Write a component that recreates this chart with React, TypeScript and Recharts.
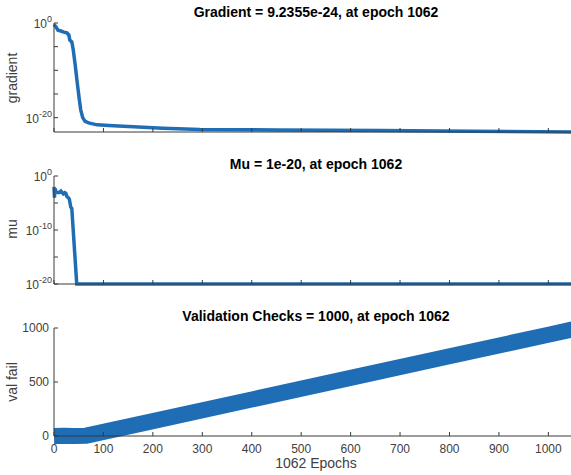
import { LineChart, Line, XAxis, YAxis } from "recharts";

// x axis
const epochMax = 1062;
const xTicks = [0, 100, 200, 300, 400, 500, 600, 700, 800, 900, 1000];

// gradient (log scale)
const gradientEpochs = [0, 4, 8, 14, 20, 26, 30, 32, 36, 39, 43, 47, 51, 54, 58, 63, 70, 87, 120, 161, 220, 295, 450, 660, 850, 1062];
const gradientValues = [0.5, 0.15, 0.03, 0.02, 0.012, 0.008, 3e-3, 2.5e-4, 1e-4, 2e-6, 1e-9, 2.5e-13, 1e-16, 5e-19, 1e-20, 1.6e-21, 8e-22, 3e-22, 2e-22, 1.2e-22, 6e-23, 3.2e-23, 2.5e-23, 2e-23, 1.4e-23, 9.2355e-24];

// mu (log scale)
const muEpochs = [0, 1, 2, 4, 6, 9, 12, 14, 17, 19, 22, 24, 26, 29, 31, 34, 36, 46, 1062];
const muValues = [1e-2, 1e-4, 5e-3, 1.2e-3, 1e-3, 8e-4, 1e-3, 1.6e-3, 8e-4, 5e-4, 8e-4, 6e-4, 1.6e-4, 1e-4, 5e-5, 1.6e-6, 1e-6, 1e-20, 1e-20];

// validation checks
const valEpochs = [0, 20, 40, 65, 200, 400, 600, 800, 1000, 1062];
const valValues = [0, 2, 0, 3, 138, 338, 538, 738, 938, 1000];

const gradTicks = [1e-20, 1e-15, 1e-10, 1e-5, 1];
const gradLabels = [0, -20];
const muTicks = [1e-20, 1e-15, 1e-10, 1e-5, 1];
const muLabels = [0, -10, -20];
const valTicks = [0, 500, 1000];

const toRows = (xs: number[], ys: number[]) => xs.map((epoch, i) => ({ epoch, value: ys[i] }));

const gradientData = toRows(gradientEpochs, gradientValues);
const muData = toRows(muEpochs, muValues);
const valData = toRows(valEpochs, valValues);

const BLUE = "#1f6db4";
const AXIS = "#3a3a3a";
const TEXT = "#404040";
const FONT = "'Liberation Sans', Arial, Helvetica, sans-serif";

const BottomTick = (props: any) => {
  const { x, y, payload, showLabel } = props;
  return (
    <g>
      <line x1={x} x2={x} y1={y} y2={y - 4} stroke={AXIS} strokeWidth={1} />
      {showLabel && (
        <text x={x} y={y + 17} textAnchor="middle" fontSize={12} fill={TEXT} fontFamily={FONT}>
          {payload.value}
        </text>
      )}
    </g>
  );
};

const TopTick = (props: any) => {
  const { x, y } = props;
  return <line x1={x} x2={x} y1={y} y2={y + 4} stroke={AXIS} strokeWidth={1} />;
};

const LogTick = (props: any) => {
  const { x, y, payload, labels } = props;
  const exp = Math.round(Math.log10(payload.value));
  return (
    <g>
      <line x1={x} x2={x + 4} y1={y} y2={y} stroke={AXIS} strokeWidth={1} />
      {labels.includes(exp) && (
        <text x={x - 2} y={y + 5} textAnchor="end" fontSize={12} fill={TEXT} fontFamily={FONT}>
          <tspan>10</tspan>
          <tspan dy={-6} fontSize={9}>{exp}</tspan>
        </text>
      )}
    </g>
  );
};

const LinTick = (props: any) => {
  const { x, y, payload } = props;
  return (
    <g>
      <line x1={x} x2={x + 4} y1={y} y2={y} stroke={AXIS} strokeWidth={1} />
      <text x={x - 5} y={y + 4} textAnchor="end" fontSize={12} fill={TEXT} fontFamily={FONT}>
        {payload.value}
      </text>
    </g>
  );
};

function Panel({
  top,
  height,
  marginTop,
  bottomHeight,
  data,
  log,
  domain,
  yTicks,
  labels,
  showX,
  width,
}: any) {
  return (
    <div style={{ position: "absolute", left: 0, top }}>
      <LineChart
        width={600}
        height={height}
        data={data}
        margin={{ top: marginTop, right: 21, left: 0, bottom: 0 }}
      >
        <XAxis
          dataKey="epoch"
          type="number"
          domain={[0, epochMax]}
          ticks={xTicks}
          interval={0}
          height={bottomHeight}
          tickSize={0}
          tickMargin={0}
          axisLine={{ stroke: AXIS, strokeWidth: 1 }}
          tickLine={false}
          tick={<BottomTick showLabel={showX} />}
        />
        <XAxis
          xAxisId="top"
          orientation="top"
          dataKey="epoch"
          type="number"
          domain={[0, epochMax]}
          ticks={xTicks}
          interval={0}
          height={0}
          tickSize={0}
          tickMargin={0}
          axisLine={{ stroke: AXIS, strokeWidth: 1 }}
          tickLine={false}
          tick={<TopTick />}
        />
        <YAxis
          type="number"
          scale={log ? "log" : "linear"}
          domain={domain}
          ticks={yTicks}
          interval={0}
          width={54}
          tickSize={0}
          tickMargin={0}
          axisLine={{ stroke: AXIS, strokeWidth: 1 }}
          tickLine={false}
          tick={log ? <LogTick labels={labels} /> : <LinTick />}
        />
        <Line
          type="linear"
          dataKey="value"
          stroke={BLUE}
          strokeWidth={width}
          dot={false}
          activeDot={false}
          isAnimationActive={false}
        />
      </LineChart>
    </div>
  );
}

export default function App() {
  return (
    <div
      style={{
        position: "absolute",
        left: 0,
        top: 0,
        width: 571,
        height: 475,
        overflow: "hidden",
        background: "#fff",
      }}
    >
      <Panel
        top={0}
        height={150}
        marginTop={23}
        bottomHeight={18}
        data={gradientData}
        log
        domain={[9.2355e-24, 1]}
        yTicks={gradTicks}
        labels={gradLabels}
        showX={false}
        width={3.5}
      />
      <Panel
        top={150}
        height={152}
        marginTop={26}
        bottomHeight={18}
        data={muData}
        log
        domain={[1e-20, 1]}
        yTicks={muTicks}
        labels={muLabels}
        showX={false}
        width={3.5}
      />
      <Panel
        top={302}
        height={164}
        marginTop={26}
        bottomHeight={30}
        data={valData}
        log={false}
        domain={[0, 1000]}
        yTicks={valTicks}
        showX
        width={16}
      />
      <svg
        width={571}
        height={475}
        style={{ position: "absolute", left: 0, top: 0, pointerEvents: "none" }}
        fontFamily={FONT}
      >
        <g fontSize={14} fontWeight="bold" fill="#000" textAnchor="middle">
          <text x={316} y={17}>Gradient = 9.2355e-24, at epoch 1062</text>
          <text x={316} y={169}>Mu = 1e-20, at epoch 1062</text>
          <text x={316} y={321}>Validation Checks = 1000, at epoch 1062</text>
        </g>
        <g fontSize={14} fill={TEXT} textAnchor="middle">
          <text transform="translate(17,78) rotate(-90)">gradient</text>
          <text transform="translate(17,229) rotate(-90)">mu</text>
          <text transform="translate(17,382) rotate(-90)">val fail</text>
          <text x={316} y={468}>1062 Epochs</text>
        </g>
      </svg>
    </div>
  );
}
